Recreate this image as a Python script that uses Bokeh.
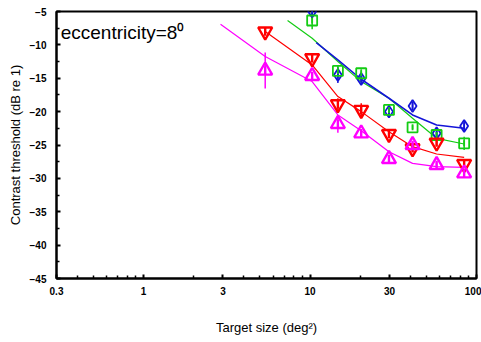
from bokeh.plotting import figure
from bokeh.models import ColumnDataSource, FixedTicker, Label, Whisker
from bokeh.embed import file_html
from bokeh.resources import INLINE

# ---- data ----
sizes7 = [10.3, 14.7, 20.3, 29.8, 41.3, 57.6, 84.3]
sizes8 = [5.38, 10.3, 14.7, 20.3, 29.8, 41.3, 57.6, 84.3]

blue_y = [-5.0, -14.5, -15.1, -20.0, -19.15, -23.25, -22.15]
blue_err = [1.0, 1.2, 0.8, 0.8, 0.6, 0.6, 0.7]
green_y = [-6.35, -13.9, -14.25, -19.75, -22.35, -23.5, -24.75]
green_err = [1.3, 0.9, 0.6, 0.9, 0.3, 0.5, 1.0]
red_y = [-8.0, -12.0, -18.9, -19.75, -23.35, -25.5, -24.65, -27.85]
red_err = [0.3, 0.6, 0.9, 1.0, 0.5, 0.5, 0.5, 0.5]
mag_y = [-13.85, -14.65, -21.85, -23.25, -27.1, -25.0, -28.0, -29.25]
mag_err = [2.7, 0.5, 1.3, 0.4, 0.3, 0.4, 0.4, 0.4]

# fitted curves
mag_fit_x = [2.9, 5.38, 10.3, 14.7, 20.3, 29.8, 41.3, 57.6, 84.3]
mag_fit_y = [-6.9, -11.75, -15.5, -20.5, -22.85, -26.0, -27.75, -28.25, -28.35]
red_fit_x = [5.38, 10.3, 14.7, 20.3, 29.8, 41.3, 57.6, 84.3]
red_fit_y = [-8.0, -13.0, -17.75, -20.0, -23.0, -25.25, -26.35, -26.85]
green_fit_x = [7.33, 10.3, 14.7, 20.3, 29.8, 41.3, 57.6, 84.3]
green_fit_y = [-6.35, -9.0, -12.5, -15.5, -18.0, -21.0, -24.0, -24.85]
blue_fit_x = [10.9, 14.7, 20.3, 29.8, 41.3, 57.6, 84.3]
blue_fit_y = [-9.65, -12.25, -15.15, -18.0, -20.5, -22.0, -22.5]

x_ticks = [0.3, 1, 3, 10, 30, 100]
x_minor = [0.4, 0.5, 0.6, 0.7, 0.8, 0.9, 2, 4, 5, 6, 7, 8, 9,
           20, 40, 50, 60, 70, 80, 90]
y_ticks = [-45, -40, -35, -30, -25, -20, -15, -10, -5]
y_minor = [-42.5, -37.5, -32.5, -27.5, -22.5, -17.5, -12.5, -7.5]

BLUE = "#1414d8"
GREEN = "#14cc14"
RED = "#ff0000"
MAG = "#ff00ff"

p = figure(width=481, height=342, x_axis_type="log",
           x_range=(0.3, 100), y_range=(-45, -5),
           output_backend="svg", toolbar_location=None,
           min_border_left=56, min_border_right=5,
           min_border_top=11, min_border_bottom=64)
p.background_fill_color = "white"
p.border_fill_color = "white"
p.xgrid.visible = False
p.ygrid.visible = False
p.outline_line_color = "black"
p.outline_line_width = 2

p.xaxis.ticker = FixedTicker(ticks=x_ticks, minor_ticks=x_minor)
p.yaxis.ticker = FixedTicker(ticks=y_ticks, minor_ticks=y_minor)
p.xaxis.major_label_overrides = {0.3: "0.3", 1: "1", 3: "3", 10: "10", 30: "30", 100: "100"}
for ax in (p.xaxis[0], p.yaxis[0]):
    ax.axis_line_width = 2
    ax.axis_line_color = "black"
    ax.major_tick_in = 4
    ax.major_tick_out = 0
    ax.minor_tick_in = 3
    ax.minor_tick_out = 0
    ax.major_tick_line_width = 2
    ax.minor_tick_line_width = 1.5
    ax.major_tick_line_color = "black"
    ax.minor_tick_line_color = "black"
    ax.major_label_text_font = "Liberation Sans"
    ax.major_label_text_font_style = "bold"
    ax.major_label_text_font_size = "10px"
    ax.major_label_text_color = "black"
    ax.axis_label_text_font = "Liberation Sans"
    ax.axis_label_text_font_style = "normal"
    ax.axis_label_text_font_size = "13px"
    ax.axis_label_text_color = "black"
p.xaxis.major_label_standoff = 8
p.yaxis.major_label_standoff = 10
p.xaxis.axis_label = "Target size (deg²)"
p.yaxis.axis_label = "Contrast threshold (dB re 1)"
p.xaxis.axis_label_standoff = 22
p.yaxis.axis_label_standoff = 4

# fit lines
p.line(mag_fit_x, mag_fit_y, line_color=MAG, line_width=1.2)
p.line(red_fit_x, red_fit_y, line_color=RED, line_width=1.2)
p.line(green_fit_x, green_fit_y, line_color=GREEN, line_width=1.2)
p.line(blue_fit_x, blue_fit_y, line_color=BLUE, line_width=1.6)


def series(xs, ys, errs, color, marker, size, lw):
    src = ColumnDataSource(dict(x=xs, y=ys,
                                lo=[a - b for a, b in zip(ys, errs)],
                                hi=[a + b for a, b in zip(ys, errs)]))
    w = Whisker(source=src, base="x", lower="lo", upper="hi",
                line_color=color, line_width=1.5,
                upper_head=None, lower_head=None)
    p.add_layout(w)
    p.scatter("x", "y", source=src, marker=marker, size=size,
              line_color=color, fill_alpha=0, line_width=lw)
    p.scatter("x", "y", source=src, marker="dash", angle=1.5708, size=size * 0.6,
              line_color=color, line_width=lw)


series(sizes7, blue_y, blue_err, BLUE, "diamond", 12, 1.8)
series(sizes7, green_y, green_err, GREEN, "square", 10, 1.8)
series(sizes8, red_y, red_err, RED, "inverted_triangle", 14, 2.4)
series(sizes8, mag_y, mag_err, MAG, "triangle", 14, 2.4)

p.add_layout(Label(x=0.318, y=-9.75, text="eccentricity=8⁰",
                   text_font="Liberation Sans", text_font_size="19px",
                   text_color="black"))

open("out.html", "w").write(file_html(p, INLINE))
